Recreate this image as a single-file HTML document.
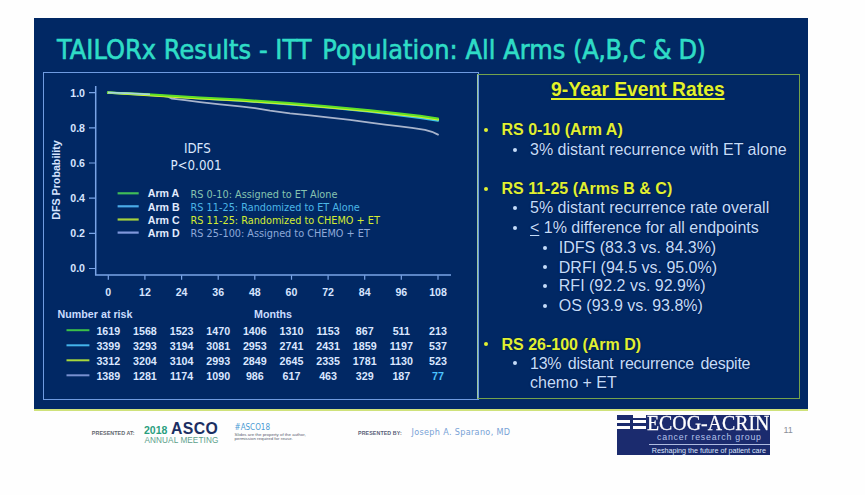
<!DOCTYPE html>
<html><head><meta charset="utf-8">
<style>
html,body{margin:0;padding:0;}
body{width:865px;height:495px;position:relative;overflow:hidden;background:#fefefe;font-family:"Liberation Sans",Arial,sans-serif;}
#wrap{position:absolute;left:0;top:0;width:865px;height:495px;}
.abs{position:absolute;white-space:nowrap;line-height:1;}
#slide{position:absolute;left:34px;top:18px;width:774px;height:391px;background:#012864;}
#ybar{position:absolute;left:34px;top:409px;width:774px;height:2px;background:#cfe27a;filter:blur(0.5px);}
#title{left:57px;top:37px;font-size:26.8px;letter-spacing:0.06px;color:#2fdcc6;-webkit-text-stroke:0.6px #2fdcc6;font-family:"DejaVu Sans Condensed","DejaVu Sans",sans-serif;}
#lpanel{position:absolute;left:43px;top:72px;width:434px;height:326px;border:1.5px solid #6f9be0;}
#rpanel{position:absolute;left:477px;top:74px;width:321px;height:323px;border:1.5px solid #74a24c;border-left-color:#9cc8a0;}
.y{color:#e0f032;font-weight:bold;font-size:16px;text-shadow:0 0 1.5px #00113a;}
.w{color:#c4dcfa;font-size:16px;text-shadow:0 0 1.5px #00113a;}
.dot{position:absolute;width:4px;height:4px;border-radius:50%;}
</style></head>
<body>
<div id="wrap">
<div id="slide"></div>
<div id="ybar"></div>
<div class="abs" id="title">TAILORx Results - ITT <span style="margin-left:3px">Population: All Arms</span> <span style="letter-spacing:-0.38px">(A,B,C &amp; D)</span></div>
<div id="lpanel"></div>
<div id="rpanel"></div>

<svg class="abs" width="865" height="495" viewBox="0 0 865 495" style="left:0;top:0;">
 <g font-family="Liberation Sans, Arial, sans-serif">
  <!-- axes -->
  <g stroke="#7aa4e6" stroke-width="1.5" fill="none">
   <path d="M95.7 86 V275.1 H451"/>
   <path stroke-width="1.2" d="M89 92.6 H95.7 M89 127.9 H95.7 M89 163 H95.7 M89 198.2 H95.7 M89 233.3 H95.7 M89 268.5 H95.7"/>
   <path stroke-width="1.2" d="M108.3 275.3 v4.5 M144.9 275.3 v4.5 M181.6 275.3 v4.5 M218.2 275.3 v4.5 M254.8 275.3 v4.5 M291.5 275.3 v4.5 M328.1 275.3 v4.5 M364.7 275.3 v4.5 M401.3 275.3 v4.5 M438 275.3 v4.5"/>
  </g>
  <g fill="#d6e4ff" font-weight="bold" font-size="10.6" text-anchor="end">
   <text x="85" y="96.6">1.0</text>
   <text x="85" y="131.7">0.8</text>
   <text x="85" y="166.8">0.6</text>
   <text x="85" y="202">0.4</text>
   <text x="85" y="237.1">0.2</text>
   <text x="85" y="272.3">0.0</text>
  </g>
  <text transform="translate(60.2,180) rotate(-90)" fill="#d6e4ff" font-weight="bold" font-size="10.7" text-anchor="middle">DFS Probability</text>
  <g fill="#d6e4ff" font-weight="bold" font-size="10.6" text-anchor="middle">
   <text x="108.3" y="296">0</text>
   <text x="144.9" y="296">12</text>
   <text x="181.6" y="296">24</text>
   <text x="218.2" y="296">36</text>
   <text x="254.8" y="296">48</text>
   <text x="291.5" y="296">60</text>
   <text x="328.1" y="296">72</text>
   <text x="364.7" y="296">84</text>
   <text x="401.3" y="296">96</text>
   <text x="438" y="296">108</text>
  </g>
  <!-- curves -->
  <g fill="none" stroke-linejoin="round" stroke-linecap="round">
   <polyline stroke="#a8b4cc" stroke-width="1.8" points="108,92.6 140,94.2 160,95.6 168,96.6 172,98.6 185,100.2 200,102.1 220,104.3 240,106.3 255,108.2 270,110.6 290,113.3 310,115.4 330,117.6 350,119.9 370,122.6 385,124.6 400,126.4 412,127.8 425,129.8 432,131.8 438,134.6"/>
   <polyline stroke="#3cc4e8" stroke-width="2.2" points="108,92.6 140,94.3 172,96.5 200,98.4 240,100.7 290,104.3 330,107.7 370,111.7 400,115.4 420,117.8 438,120.6"/>
   <polyline stroke="#d4f024" stroke-width="2.2" points="108,92.6 140,94.7 172,96.6 200,98.3 240,100.5 290,104.0 330,107.3 370,111.1 400,114.5 420,116.7 438,119.3"/>
   <polyline stroke="#5ee028" stroke-width="2" points="108,92.6 140,93.8 172,95.7 200,97.4 240,99.6 290,103.1 330,106.4 370,110.2 400,113.6 420,115.8 438,118.4"/>
   <polyline stroke="#a6d4dc" stroke-width="1.7" stroke-linecap="butt" points="108,92.6 125,93.1 140,93.9 150,94.4"/>
  </g>
  <!-- legend -->
  <g stroke-width="2.2">
   <line x1="117.6" y1="193.3" x2="138.7" y2="193.3" stroke="#40bc58"/>
   <line x1="117.6" y1="206.3" x2="138.7" y2="206.3" stroke="#4aaae8"/>
   <line x1="117.6" y1="219.5" x2="138.7" y2="219.5" stroke="#a6d23c"/>
   <line x1="117.6" y1="232.6" x2="138.7" y2="232.6" stroke="#8098dc"/>
  </g>
  <g fill="#e2ecff" font-weight="bold" font-size="10.6">
   <text x="147.8" y="197.4">Arm A</text>
   <text x="147.8" y="210.5">Arm B</text>
   <text x="147.8" y="223.6">Arm C</text>
   <text x="147.8" y="236.7">Arm D</text>
  </g>
  <g font-size="10.8" font-family="DejaVu Sans Condensed, DejaVu Sans, sans-serif">
   <text x="190.6" y="197.6" fill="#86c4b0">RS 0-10: Assigned to ET Alone</text>
   <text x="190.6" y="210.7" fill="#4cb6e6">RS 11-25: Randomized to ET Alone</text>
   <text x="190.6" y="223.8" fill="#d4ec32">RS 11-25: Randomized to CHEMO + ET</text>
   <text x="190.6" y="236.9" fill="#8ea8d8">RS 25-100: Assigned to CHEMO + ET</text>
  </g>
  <g fill="#dce8ff" font-size="13.2" font-family="DejaVu Sans Condensed, DejaVu Sans, sans-serif">
   <text x="197.3" y="152.6" text-anchor="middle">IDFS</text>
   <text x="196" y="169.7" text-anchor="middle">P&lt;0.001</text>
  </g>
  <!-- number at risk -->
  <g fill="#cadcff" font-weight="bold" font-size="10.7">
   <text x="57.6" y="318.4">Number at risk</text>
   <text x="254" y="318.4">Months</text>
  </g>
  <g stroke-width="2">
   <line x1="66.5" y1="330.2" x2="89.4" y2="330.2" stroke="#3cc048"/>
   <line x1="66.5" y1="345.3" x2="89.4" y2="345.3" stroke="#44b4ec"/>
   <line x1="66.5" y1="360.3" x2="89.4" y2="360.3" stroke="#a8d83c"/>
   <line x1="66.5" y1="375.3" x2="89.4" y2="375.3" stroke="#7890d0"/>
  </g>
  <g fill="#dae6ff" font-weight="bold" font-size="10.7" text-anchor="middle">
   <text y="334.6"><tspan x="108.3">1619</tspan><tspan x="144.9">1568</tspan><tspan x="181.6">1523</tspan><tspan x="218.2">1470</tspan><tspan x="254.8">1406</tspan><tspan x="291.5">1310</tspan><tspan x="328.1">1153</tspan><tspan x="364.7">867</tspan><tspan x="401.3">511</tspan><tspan x="438">213</tspan></text>
   <text y="349.7"><tspan x="108.3">3399</tspan><tspan x="144.9">3293</tspan><tspan x="181.6">3194</tspan><tspan x="218.2">3081</tspan><tspan x="254.8">2953</tspan><tspan x="291.5">2741</tspan><tspan x="328.1">2431</tspan><tspan x="364.7">1859</tspan><tspan x="401.3">1197</tspan><tspan x="438">537</tspan></text>
   <text y="364.7"><tspan x="108.3">3312</tspan><tspan x="144.9">3204</tspan><tspan x="181.6">3104</tspan><tspan x="218.2">2993</tspan><tspan x="254.8">2849</tspan><tspan x="291.5">2645</tspan><tspan x="328.1">2335</tspan><tspan x="364.7">1781</tspan><tspan x="401.3">1130</tspan><tspan x="438">523</tspan></text>
   <text y="379.7"><tspan x="108.3">1389</tspan><tspan x="144.9">1281</tspan><tspan x="181.6">1174</tspan><tspan x="218.2">1090</tspan><tspan x="254.8">986</tspan><tspan x="291.5">617</tspan><tspan x="328.1">463</tspan><tspan x="364.7">329</tspan><tspan x="401.3">187</tspan><tspan x="438" fill="#4cc4ff">77</tspan></text>
  </g>
 </g>
</svg>

<!-- right panel text -->
<div class="abs" style="left:551px;top:80px;font-size:19.3px;font-weight:bold;color:#e2f22a;text-shadow:0 0 1.5px #00113a;text-decoration-color:#d6de26;text-decoration:underline;text-decoration-thickness:1.8px;text-underline-offset:2.2px;">9-Year Event Rates</div>

<div class="dot" style="left:484px;top:128px;background:#e0f032;"></div>
<div class="abs y" style="left:501.5px;top:121.5px;">RS 0-10 (Arm A)</div>
<div class="dot" style="left:512.5px;top:147.5px;background:#c4dcfa;"></div>
<div class="abs w" style="left:530px;top:142.3px;">3% distant recurrence with ET alone</div>

<div class="dot" style="left:484px;top:187px;background:#e0f032;"></div>
<div class="abs y" style="left:501.5px;top:180.5px;">RS 11-25 (Arms B &amp; C)</div>
<div class="dot" style="left:512.5px;top:206px;background:#c4dcfa;"></div>
<div class="abs w" style="left:530px;top:200.4px;">5% distant recurrence rate overall</div>
<div class="dot" style="left:512.5px;top:226px;background:#c4dcfa;"></div>
<div class="abs w" style="left:530px;top:219.8px;"><span style="text-decoration:underline;text-underline-offset:2px;">&lt;</span> 1% difference for all endpoints</div>
<div class="dot" style="left:543px;top:245.5px;background:#c4dcfa;"></div>
<div class="abs w" style="left:558.8px;top:239.5px;">IDFS (83.3 vs. 84.3%)</div>
<div class="dot" style="left:543px;top:265px;background:#c4dcfa;"></div>
<div class="abs w" style="left:558.8px;top:259.5px;">DRFI (94.5 vs. 95.0%)</div>
<div class="dot" style="left:543px;top:284px;background:#c4dcfa;"></div>
<div class="abs w" style="left:558.8px;top:278px;">RFI (92.2 vs. 92.9%)</div>
<div class="dot" style="left:543px;top:304px;background:#c4dcfa;"></div>
<div class="abs w" style="left:558.8px;top:297.8px;">OS (93.9 vs. 93.8%)</div>

<div class="dot" style="left:484px;top:342px;background:#e0f032;"></div>
<div class="abs y" style="left:501.5px;top:336.6px;">RS 26-100 (Arm D)</div>
<div class="dot" style="left:512.5px;top:361px;background:#c4dcfa;"></div>
<div class="abs w" style="left:530px;top:356px;letter-spacing:-0.25px;word-spacing:2.4px;">13% distant recurrence despite</div>
<div class="abs w" style="left:530px;top:374.5px;">chemo + ET</div>

<!-- footer -->
<div class="abs" style="left:91.8px;top:431.3px;font-size:5.4px;font-weight:bold;color:#62666e;letter-spacing:0.05px;">PRESENTED AT:</div>
<div class="abs" style="left:144px;top:425px;font-size:10.5px;font-weight:bold;color:#2a9e7e;">2018</div>
<div class="abs" style="left:171px;top:421px;font-size:15.8px;font-weight:bold;letter-spacing:0.4px;color:#1b2f63;">ASCO</div>
<div class="abs" style="left:144.5px;top:437px;font-size:8.2px;color:#5c9e8a;letter-spacing:0.1px;">ANNUAL MEETING</div>
<div class="abs" style="left:234.6px;top:424.4px;font-size:8px;color:#4a9ad4;font-family:'DejaVu Sans Condensed',sans-serif;">#ASCO18</div>
<div class="abs" style="left:234.6px;top:433.3px;font-size:4.4px;color:#5a6070;line-height:0.95;">Slides are the property of the author,<br>permission required for reuse.</div>
<div class="abs" style="left:358px;top:431.3px;font-size:5.3px;font-weight:bold;color:#5a5e78;letter-spacing:0.1px;">PRESENTED BY:</div>
<div class="abs" style="left:411.5px;top:427.6px;font-size:9px;letter-spacing:0.33px;color:#78a2d6;font-family:'DejaVu Sans Condensed',sans-serif;">Joseph A. Sparano, MD</div>

<!-- ECOG-ACRIN logo -->
<div style="position:absolute;left:617px;top:414.6px;width:152.7px;height:40.6px;background:#1b2b6e;"></div>
<div style="position:absolute;left:633.2px;top:414.3px;width:12.8px;height:3.3px;background:#fefefe;"></div>
<div style="position:absolute;left:617px;top:420.1px;width:13.4px;height:3.3px;background:#fefefe;"></div>
<div style="position:absolute;left:633.2px;top:420.1px;width:12.8px;height:3.3px;background:#fefefe;"></div>
<div style="position:absolute;left:617px;top:425.5px;width:13.4px;height:3.8px;background:#fefefe;"></div>
<div style="position:absolute;left:633.2px;top:425.5px;width:12.8px;height:3.8px;background:#fefefe;"></div>
<div class="abs" style="left:646.5px;top:412.6px;font-family:'Liberation Serif',serif;font-size:21.7px;color:#fff;-webkit-text-stroke:0.3px #fff;transform-origin:0 0;transform:scaleX(0.915);">ECOG-ACRIN</div>
<div class="abs" style="left:657px;top:432.5px;font-size:8.8px;color:#b4c2ea;letter-spacing:0.8px;">cancer research group</div>
<div style="position:absolute;left:649.3px;top:443.9px;width:120.4px;height:1.1px;background:#aebbe0;"></div>
<div class="abs" style="left:651.7px;top:447.3px;font-size:7.2px;color:#dfe6ff;">Reshaping the future of patient care</div>
<div class="abs" style="left:783.5px;top:425.5px;font-size:9px;color:#8a8f99;">11</div>
</div>
</body></html>
